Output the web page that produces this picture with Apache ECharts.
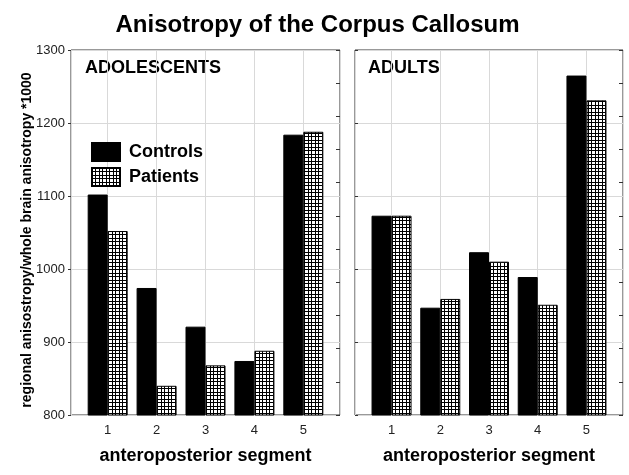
<!DOCTYPE html>
<html>
<head>
<meta charset="utf-8">
<script src="https://cdn.jsdelivr.net/npm/echarts@6/dist/echarts.min.js"></script>
<style>
html,body{margin:0;padding:0;background:#fff;}
#chart{width:629px;height:475px;}
</style>
</head>
<body>
<div id="chart"></div>
<script>
// ---- data ----
var segments = [1, 2, 3, 4, 5];
var adolescentControls = [1102, 974, 921, 874, 1184];
var adolescentPatients = [1052, 840, 868, 888, 1188];
var adultControls = [1073, 947, 1023, 989, 1265];
var adultPatients = [1073, 959, 1010, 951, 1231];
var yTicks = [800, 900, 1000, 1100, 1200, 1300];

var FONT = 'Liberation Sans, Arial, sans-serif';

// grid hatch pattern
var pc = document.createElement('canvas');
pc.width = 7; pc.height = 7;
var g = pc.getContext('2d');
g.fillStyle = '#fff'; g.fillRect(0, 0, 7, 7);
g.fillStyle = '#000';
g.fillRect(0, 0, 1, 7); g.fillRect(3, 0, 1, 7);
g.fillRect(0, 0, 7, 1); g.fillRect(0, 3, 7, 1);
var hatch = { image: pc, repeat: 'repeat' };

function pairs(vals) {
  return segments.map(function (s, i) { return [s, vals[i]]; });
}

function xAxisFor(idx) {
  return {
    type: 'value', gridIndex: idx, min: 0.25, max: 5.75, splitNumber: 5,
    axisLine: { show: false },
    axisTick: { show: false },
    axisLabel: {
      showMinLabel: false, showMaxLabel: false,
      color: '#222', fontSize: 13, fontFamily: FONT, margin: 9,
      formatter: function (v) { return (Math.abs(v - Math.round(v)) < 1e-6) ? String(Math.round(v)) : ''; }
    },
    splitLine: { show: true, lineStyle: { color: '#d9d9d9', width: 1 } },
    name: 'anteroposterior segment', nameLocation: 'middle', nameGap: 32,
    nameTextStyle: { fontSize: 18, fontWeight: 'bold', color: '#000', fontFamily: FONT }
  };
}

function yAxisFor(idx, showLabels) {
  return {
    type: 'value', gridIndex: idx, min: yTicks[0], max: yTicks[yTicks.length - 1], interval: 100,
    axisLine: { show: false },
    axisTick: { show: true, inside: !showLabels, length: 3, lineStyle: { color: '#333' } },
    axisLabel: { show: showLabels, color: '#222', fontSize: 13, fontFamily: FONT, margin: 6,
      formatter: function (v) { return String(v); } },
    splitLine: { show: true, lineStyle: { color: '#d9d9d9', width: 1 } }
  };
}

function rightTicksFor(idx) {
  return {
    type: 'value', gridIndex: idx, position: 'right', min: 0, max: 11, interval: 1,
    axisLine: { show: false },
    axisTick: { show: true, inside: true, length: 4, lineStyle: { color: '#333' } },
    axisLabel: { show: false },
    splitLine: { show: false }
  };
}

function barSeries(name, vals, gi, yi, patterned) {
  return {
    type: 'bar', name: name, xAxisIndex: gi, yAxisIndex: yi,
    data: pairs(vals), barWidth: 20, barGap: '0%',
    itemStyle: { color: patterned ? hatch : '#000', borderColor: '#000', borderWidth: 1 },
    emphasis: { disabled: true }
  };
}

var chart = echarts.init(document.getElementById('chart'), null, { renderer: 'canvas' });
chart.setOption({
  animation: false,
  backgroundColor: '#fff',
  grid: [
    { left: 71, right: 289, top: 50, bottom: 60, show: true, borderColor: '#333', borderWidth: 1, backgroundColor: 'transparent' },
    { left: 355, right: 6, top: 50, bottom: 60, show: true, borderColor: '#333', borderWidth: 1, backgroundColor: 'transparent' }
  ],
  xAxis: [xAxisFor(0), xAxisFor(1)],
  yAxis: [yAxisFor(0, true), yAxisFor(1, false), rightTicksFor(0), rightTicksFor(1)],
  legend: {
    orient: 'vertical', left: 86, top: 137, padding: 5, itemWidth: 28, itemHeight: 18, itemGap: 5,
    icon: 'rect', data: ['Controls', 'Patients'], selectedMode: false,
    textStyle: { fontSize: 18, fontWeight: 'bold', color: '#000', fontFamily: FONT, padding: [0, 0, 0, 4] }
  },
  series: [
    barSeries('Controls', adolescentControls, 0, 0, false),
    barSeries('Patients', adolescentPatients, 0, 0, true),
    barSeries('Controls', adultControls, 1, 1, false),
    barSeries('Patients', adultPatients, 1, 1, true)
  ],
  graphic: [
    { type: 'text', x: 317.5, y: 25.5, style: { text: 'Anisotropy of the Corpus Callosum', font: 'bold 24px ' + FONT, fill: '#000', textAlign: 'center', textVerticalAlign: 'middle' } },
    { type: 'text', x: 85, y: 68.5, style: { text: 'ADOLESCENTS', font: 'bold 18px ' + FONT, fill: '#000', textVerticalAlign: 'middle' } },
    { type: 'text', x: 368, y: 68.5, style: { text: 'ADULTS', font: 'bold 18px ' + FONT, fill: '#000', textVerticalAlign: 'middle' } },
    { type: 'text', x: 27, y: 240, rotation: Math.PI / 2,
      style: { text: 'regional anisostropy/whole brain anisotropy *1000', font: 'bold 14px ' + FONT, fill: '#000', textAlign: 'center', textVerticalAlign: 'middle' } }
  ]
});
</script>
</body>
</html>
